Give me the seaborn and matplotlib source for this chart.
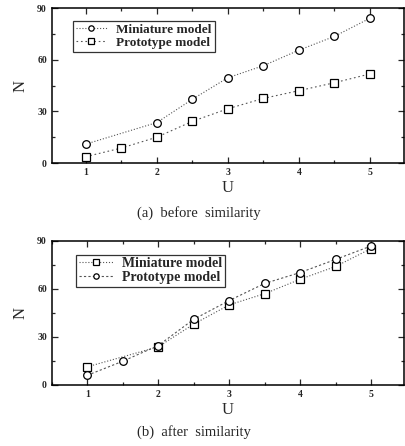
import numpy as np
import pandas as pd
import matplotlib
matplotlib.use('Agg')
import matplotlib.pyplot as plt
from matplotlib.ticker import MultipleLocator
import seaborn as sns

# (a) before similarity
u_mini_a = [1, 2, 2.5, 3, 3.5, 4, 4.5, 5]
n_mini_a = [11, 23.5, 37, 49.5, 56.5, 65.5, 73.5, 84]
u_proto_a = [1, 1.5, 2, 2.5, 3, 3.5, 4, 4.5, 5]
n_proto_a = [3.7, 8.7, 15, 24.2, 31.5, 37.5, 42, 46.6, 51.7]

# (b) after similarity
u_mini_b = [1, 2, 2.5, 3, 3.5, 4, 4.5, 5]
n_mini_b = [11.3, 23.8, 38, 50, 57, 66, 74, 85.2]
u_proto_b = [1, 1.5, 2, 2.5, 3, 3.5, 4, 4.5, 5]
n_proto_b = [6, 14.8, 24.6, 41, 52.7, 63.4, 70.2, 78.4, 86.8]

sns.set_style('ticks')
plt.rcParams['font.family'] = ['Liberation Serif', 'DejaVu Serif']

fig = plt.figure(figsize=(4.05, 4.46), dpi=100)
ax1 = fig.add_axes([0.128, 0.6345, 0.869, 0.3475])
ax2 = fig.add_axes([0.128, 0.137, 0.869, 0.323])

mk = dict(markerfacecolor='white', markeredgecolor='black', markeredgewidth=0.9,
          markersize=5.5, linewidth=0.8, color='#555555')

sns.lineplot(x=u_mini_a, y=n_mini_a, ax=ax1, marker='o', linestyle=':', label='Miniature model', **mk)
sns.lineplot(x=u_proto_a, y=n_proto_a, ax=ax1, marker='s', linestyle=(0, (1.5, 2.5)), label='Prototype model', **mk)

sns.lineplot(x=u_mini_b, y=n_mini_b, ax=ax2, marker='s', linestyle=':', label='Miniature model', **mk)
sns.lineplot(x=u_proto_b, y=n_proto_b, ax=ax2, marker='o', linestyle=(0, (2, 2)), label='Prototype model', **mk)

for ax, xl, anchor, fs in [(ax1, (0.52, 5.48), (0.06, 0.915), 9.5),
                           (ax2, (0.5, 5.46), (0.07, 0.905), 10)]:
    ax.set_xlim(*xl)
    ax.set_ylim(0, 90)
    ax.set_xticks([1, 2, 3, 4, 5])
    ax.set_yticks([0, 30, 60, 90])
    ax.xaxis.set_minor_locator(MultipleLocator(0.5))
    ax.yaxis.set_minor_locator(MultipleLocator(15))
    ax.tick_params(which='both', direction='in', top=True, right=True, labelsize=7, width=0.9)
    ax.tick_params(which='major', length=4)
    ax.tick_params(which='minor', length=2)
    for lab in ax.get_xticklabels() + ax.get_yticklabels():
        lab.set_fontweight('bold')
    for sp in ax.spines.values():
        sp.set_linewidth(1.1)
        sp.set_color('black')
    ax.set_xlabel('U', fontsize=12, labelpad=2)
    ax.set_ylabel('N', fontsize=12, labelpad=6)
    leg = ax.legend(loc='upper left', bbox_to_anchor=anchor, fancybox=False, frameon=True,
                    edgecolor='black', fontsize=fs, handlelength=2.4, borderpad=0.2,
                    labelspacing=0.05, handletextpad=0.7, borderaxespad=0, markerscale=0.7)
    leg.get_frame().set_linewidth(0.9)
    for t in leg.get_texts():
        t.set_fontweight('bold')

fig.text(0.49, 0.522, '(a)  before  similarity', ha='center', va='center', fontsize=10.5)
fig.text(0.48, 0.031, '(b)  after  similarity', ha='center', va='center', fontsize=10.5)

fig.savefig('out.png', dpi=100)
